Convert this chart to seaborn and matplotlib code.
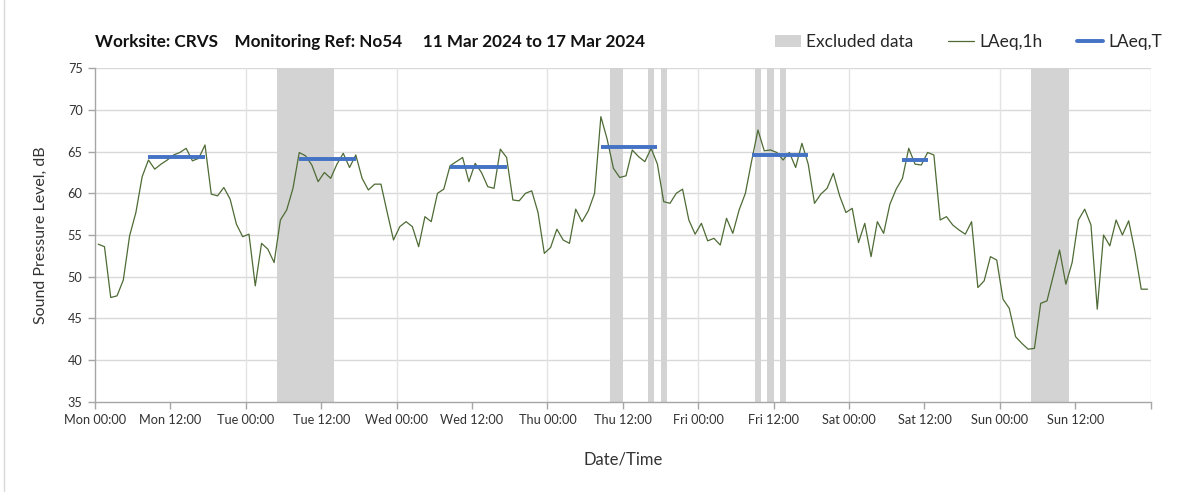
import numpy as np
import pandas as pd
import matplotlib
matplotlib.use("Agg")
import matplotlib.pyplot as plt
from matplotlib.patches import Patch
from matplotlib.lines import Line2D
import seaborn as sns

# hourly LAeq,1h, Mon 00:00 -> Sun 23:00 (plotted at the middle of each hour)
laeq_1h = [
    53.9, 53.6, 47.5, 47.7, 49.6, 54.9, 57.7, 62.0, 64.0, 62.9, 63.5, 64.0,
    64.6, 64.9, 65.4, 63.9, 64.2, 65.8, 59.9, 59.7, 60.7, 59.3, 56.3, 54.8,
    55.1, 48.9, 54.0, 53.3, 51.7, 56.8, 58.0, 60.6, 64.9, 64.5, 63.4, 61.4,
    62.5, 61.8, 63.5, 64.8, 63.1, 64.6, 61.8, 60.4, 61.1, 61.1, 57.7, 54.4,
    56.0, 56.6, 56.0, 53.6, 57.2, 56.6, 60.0, 60.5, 63.3, 63.8, 64.3, 61.4,
    63.6, 62.5, 60.8, 60.6, 65.3, 64.3, 59.2, 59.1, 60.0, 60.3, 57.7, 52.8,
    53.5, 55.7, 54.4, 54.0, 58.1, 56.6, 57.9, 60.0, 69.2, 66.5, 63.0, 61.9,
    62.1, 65.2, 64.4, 63.8, 65.4, 63.5, 59.0, 58.8, 60.0, 60.5, 56.8, 55.1,
    56.4, 54.3, 54.6, 53.8, 57.0, 55.2, 58.0, 60.0, 63.9, 67.6, 65.1, 65.2,
    64.9, 64.0, 64.9, 63.1, 66.0, 63.5, 58.8, 59.9, 60.6, 62.4, 59.7, 57.7,
    58.2, 54.1, 56.4, 52.4, 56.6, 55.2, 58.7, 60.5, 61.8, 65.4, 63.5, 63.4,
    64.9, 64.6, 56.8, 57.2, 56.2, 55.6, 55.1, 56.6, 48.7, 49.5, 52.4, 52.0,
    47.3, 46.2, 42.8, 42.0, 41.3, 41.4, 46.8, 47.1, 50.1, 53.2, 49.1, 51.7,
    56.8, 58.1, 56.2, 46.1, 55.0, 53.7, 56.8, 55.0, 56.7, 53.0, 48.5, 48.5,
]

# excluded periods (hours from Mon 00:00)
excl_start = [29, 82, 88, 90, 105, 107, 109, 149]
excl_end = [38, 84, 89, 91, 106, 108, 110, 155]

# daytime LAeq,T (first hour, last hour, level)
lt_start = [8, 32, 56, 80, 104, 128]
lt_end = [17, 41, 65, 89, 113, 132]
lt_level = [64.3, 64.1, 63.2, 65.6, 64.6, 64.0]

tick_labels = ["Mon 00:00", "Mon 12:00", "Tue 00:00", "Tue 12:00", "Wed 00:00",
               "Wed 12:00", "Thu 00:00", "Thu 12:00", "Fri 00:00", "Fri 12:00",
               "Sat 00:00", "Sat 12:00", "Sun 00:00", "Sun 12:00", ""]

sns.set_theme(style="white")
plt.rcParams["font.family"] = ["Lato", "DejaVu Sans"]

green = "#4e6b35"
blue = "#4472c4"
grey = "#d3d3d3"

df = pd.DataFrame({"hour": np.arange(len(laeq_1h)) + 0.5, "laeq": laeq_1h})

fig = plt.figure(figsize=(12.03, 4.92), dpi=100)
ax = fig.add_axes([0.079, 0.1835, 0.8775, 0.6777])

for s, e in zip(excl_start, excl_end):
    ax.axvspan(s, e, color=grey, lw=0, zorder=1)

sns.lineplot(data=df, x="hour", y="laeq", color=green, lw=0.9, ax=ax, zorder=3)

for s, e, v in zip(lt_start, lt_end, lt_level):
    ax.plot([s + 0.5, e + 0.5], [v, v], color=blue, lw=2.8, solid_capstyle="butt", zorder=4)

ax.set_xlim(0, 168)
ax.set_ylim(35, 75)
ax.set_xticks(np.arange(0, 169, 12))
ax.set_xticklabels(tick_labels, fontsize=9.2, color="#333333")
ax.set_yticks(np.arange(35, 76, 5))
ax.set_yticklabels([str(v) for v in range(35, 76, 5)], fontsize=9.2, color="#333333")

# grid: horizontal every 5 dB, vertical at each midnight
for v in range(40, 76, 5):
    ax.axhline(v, color="#d9d9d9", lw=1, zorder=0)
for d in range(24, 169, 24):
    ax.axvline(d, color="#e3e3e3", lw=1, zorder=0)

for side in ["top", "right"]:
    ax.spines[side].set_visible(False)
for side in ["left", "bottom"]:
    ax.spines[side].set_color("#a6a6a6")
    ax.spines[side].set_linewidth(1)
ax.tick_params(axis="both", which="both", direction="out", length=5, width=1,
               color="#a6a6a6", pad=4)
ax.tick_params(axis="x", bottom=True)
ax.tick_params(axis="y", left=True)

ax.set_xlabel("Date/Time", fontsize=12, color="#333333", labelpad=18)
ax.set_ylabel("Sound Pressure Level, dB", fontsize=11.5, color="#333333", labelpad=14)

fig.text(0.079, 0.915, "Worksite: CRVS    Monitoring Ref: No54     11 Mar 2024 to 17 Mar 2024",
         fontsize=12.3, fontweight="bold", color="#111111", va="center")

handles = [Patch(facecolor=grey, edgecolor="none"),
           Line2D([0], [0], color=green, lw=0.9),
           Line2D([0], [0], color=blue, lw=2.8)]
fig.legend(handles, ["Excluded data", "LAeq,1h", "LAeq,T"], loc="center left",
           bbox_to_anchor=(0.644, 0.915), ncol=3, frameon=False, fontsize=12.5,
           handlelength=1.5, handleheight=0.7, columnspacing=2.0, handletextpad=0.3,
           borderpad=0, borderaxespad=0)

fig.add_artist(Line2D([0.003, 0.003], [0.0, 1.0], color="#d9d9d9", lw=1,
                      transform=fig.transFigure))

fig.savefig("out.png", dpi=100)
